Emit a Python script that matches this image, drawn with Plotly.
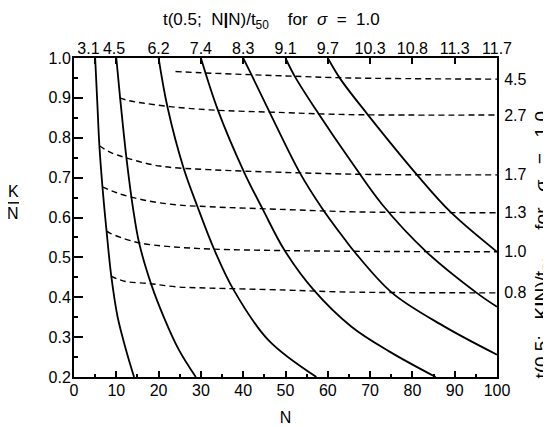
import plotly.graph_objects as go

# ---- solid contours: t(0.5; N|N)/t50 (labelled on top axis) ----
solid_A_N = [5, 5.5, 6.0, 6.7, 7.2, 7.7, 8.8, 10.3, 12.3, 14.2]
solid_A_K = [1.0, 0.89, 0.78, 0.68, 0.62, 0.566, 0.454, 0.351, 0.268, 0.2]
solid_B_N = [10, 10.9, 12.4, 14.0, 15.4, 18.3, 21.2, 24.8, 28.8]
solid_B_K = [1.0, 0.9, 0.749, 0.62, 0.536, 0.431, 0.351, 0.268, 0.2]
solid_C_N = [20, 22.1, 25.9, 29.2, 33.1, 37.6, 45.9, 57.3]
solid_C_K = [1.0, 0.877, 0.724, 0.627, 0.521, 0.421, 0.293, 0.2]
solid_D_N = [30, 34, 40.2, 44.7, 49.7, 56.6, 65.6, 74.7, 85.5]
solid_D_K = [1.0, 0.87, 0.714, 0.619, 0.519, 0.419, 0.326, 0.263, 0.2]
solid_E_N = [40, 42.0, 46.2, 53.4, 58.6, 64.1, 66.3, 75.2, 87.5, 100]
solid_E_K = [1.0, 0.957, 0.865, 0.712, 0.624, 0.544, 0.514, 0.411, 0.327, 0.256]
solid_F_N = [50, 52.3, 57.7, 65.6, 72.9, 83.3, 95.2, 100]
solid_F_K = [1.0, 0.952, 0.862, 0.739, 0.632, 0.514, 0.411, 0.376]
solid_G_N = [60, 63, 69.3, 81.1, 89.0, 100]
solid_G_K = [1.0, 0.947, 0.86, 0.707, 0.614, 0.514]

# ---- dashed contours: t(0.5; K|N)/t50 (labelled on right axis) ----
dash_45_N = [24, 30, 50, 65, 100]
dash_45_K = [0.966, 0.963, 0.955, 0.950, 0.947]
dash_27_N = [10.8, 13, 16.3, 22.7, 32, 50, 65, 100]
dash_27_K = [0.900, 0.893, 0.887, 0.878, 0.870, 0.863, 0.858, 0.857]
dash_17_N = [6.0, 8.5, 12.5, 20.3, 32, 50, 70, 100]
dash_17_K = [0.78, 0.764, 0.749, 0.729, 0.720, 0.713, 0.708, 0.707]
dash_13_N = [6.7, 10.1, 16.4, 24, 32, 50, 67, 100]
dash_13_K = [0.677, 0.662, 0.644, 0.632, 0.627, 0.620, 0.614, 0.612]
dash_10_N = [7.7, 8.5, 11, 15.6, 22.7, 32, 50, 70, 100]
dash_10_K = [0.566, 0.561, 0.55, 0.536, 0.527, 0.521, 0.517, 0.515, 0.514]
dash_08_N = [8.7, 10.5, 12.5, 18, 24.3, 32, 50, 65, 100]
dash_08_K = [0.453, 0.445, 0.439, 0.434, 0.426, 0.423, 0.418, 0.413, 0.411]

top_N = [5, 10, 20, 30, 40, 50, 60, 70, 80, 90, 100]
top_labels = ["3.1", "4.5", "6.2", "7.4", "8.3", "9.1", "9.7", "10.3", "10.8", "11.3", "11.7"]
dash_labels = ["4.5", "2.7", "1.7", "1.3", "1.0", "0.8"]

solids = [(solid_A_N, solid_A_K), (solid_B_N, solid_B_K), (solid_C_N, solid_C_K),
          (solid_D_N, solid_D_K), (solid_E_N, solid_E_K), (solid_F_N, solid_F_K),
          (solid_G_N, solid_G_K)]
dashes = [(dash_45_N, dash_45_K), (dash_27_N, dash_27_K), (dash_17_N, dash_17_K),
          (dash_13_N, dash_13_K), (dash_10_N, dash_10_K), (dash_08_N, dash_08_K)]

# crowded first two top labels are nudged left, as in the original
top_text = [top_labels[0] + "&nbsp;&nbsp;&nbsp;", top_labels[1] + "&nbsp;"] + top_labels[2:]

FONT = "Liberation Sans, Arial, sans-serif"
BLACK = "black"
fig = go.Figure()
for n, k in solids:
    fig.add_trace(go.Scatter(x=n, y=k, mode="lines", xaxis="x", yaxis="y",
                             line=dict(color=BLACK, width=1.8, shape="spline", smoothing=1.0),
                             showlegend=False, hoverinfo="skip"))
for n, k in dashes:
    fig.add_trace(go.Scatter(x=n, y=k, mode="lines", xaxis="x2", yaxis="y2",
                             line=dict(color=BLACK, width=1.4, dash="6px,4px", shape="spline", smoothing=1.0),
                             showlegend=False, hoverinfo="skip"))

tickfont = dict(family=FONT, size=16, color=BLACK)
fig.update_layout(
    template="none",
    width=551, height=427,
    margin=dict(l=66, r=62, t=50, b=58, autoexpand=False),
    paper_bgcolor="white", plot_bgcolor="white",
    showlegend=False,
    title=dict(text="t(0.5;&nbsp; N<b>|</b>N)/t<sub>50</sub>&nbsp;&nbsp;&nbsp; for&nbsp; <i>σ</i>&nbsp; =&nbsp; 1.0",
               x=0.478, xanchor="center", y=0.974, yanchor="middle", yref="container",
               font=dict(family=FONT, size=17, color=BLACK)),
    xaxis=dict(range=[0, 100], tickvals=list(range(0, 101, 10)), ticks="inside", ticklen=6,
               tickwidth=1.5, tickcolor=BLACK, automargin=False, ticklabelstandoff=-2,
               minor=dict(tickvals=list(range(5, 100, 10)), ticks="inside", ticklen=3, tickwidth=1.5, tickcolor=BLACK),
               showline=True, linecolor=BLACK, linewidth=2, showgrid=False, zeroline=False,
               tickfont=tickfont, tickangle=0,
               title=dict(text="N", font=dict(family=FONT, size=16, color=BLACK), standoff=14)),
    xaxis2=dict(range=[0, 100], overlaying="x", side="top", anchor="y2", automargin=False,
                tickvals=top_N, ticktext=top_text, ticks="inside", ticklen=6, tickwidth=1.5,
                tickcolor=BLACK, showline=True, linecolor=BLACK, linewidth=2, ticklabelstandoff=-4,
                showgrid=False, zeroline=False, tickfont=tickfont, tickangle=0),
    yaxis=dict(range=[0.2, 1.0], tickvals=[0.2, 0.3, 0.4, 0.5, 0.6, 0.7, 0.8, 0.9, 1.0],
               tickformat=".1f", ticks="inside", ticklen=9, tickwidth=1.5, tickcolor=BLACK,
               automargin=False, ticklabelstandoff=-2,
               minor=dict(tickvals=[0.25, 0.35, 0.45, 0.55, 0.65, 0.75, 0.85, 0.95], ticks="inside",
                          ticklen=4, tickwidth=1.5, tickcolor=BLACK),
               showline=True, linecolor=BLACK, linewidth=2, showgrid=False, zeroline=False,
               tickfont=tickfont),
    yaxis2=dict(range=[0.2, 1.0], overlaying="y", side="right", anchor="x2", automargin=False,
                tickvals=[k[-1] for _, k in dashes], ticktext=dash_labels, ticks="",
                ticklabelstandoff=2,
                showline=True, linecolor=BLACK, linewidth=2, showgrid=False, zeroline=False,
                tickfont=tickfont),
    font=dict(family=FONT, color=BLACK),
)

fig.add_annotation(text=("t(0.5;&nbsp;&nbsp; K<b>|</b>N)/t<sub>50</sub>&nbsp;&nbsp;&nbsp;&nbsp;&nbsp;"
                         "for&nbsp;&nbsp;&nbsp;<i>σ</i>&nbsp;&nbsp; =&nbsp;&nbsp; 1.0"),
                   xref="paper", yref="paper", x=1.0, xshift=46, xanchor="center",
                   y=0.415, yanchor="middle", textangle=-90,
                   showarrow=False, font=dict(family=FONT, size=19, color=BLACK))
fig.add_annotation(text="K", xref="paper", yref="paper", x=0, xshift=-61, xanchor="center",
                   y=0.581, yanchor="middle", borderpad=0,
                   showarrow=False, font=dict(family=FONT, size=16, color=BLACK))
fig.add_annotation(text="N", xref="paper", yref="paper", x=0, xshift=-61, xanchor="center",
                   y=0.511, yanchor="middle", borderpad=0,
                   showarrow=False, font=dict(family=FONT, size=16, color=BLACK))
fig.add_shape(type="line", xref="paper", yref="paper", x0=-0.161, x1=-0.130, y0=0.546, y1=0.546,
              line=dict(color=BLACK, width=1.5))

fig.write_html("out.html")
